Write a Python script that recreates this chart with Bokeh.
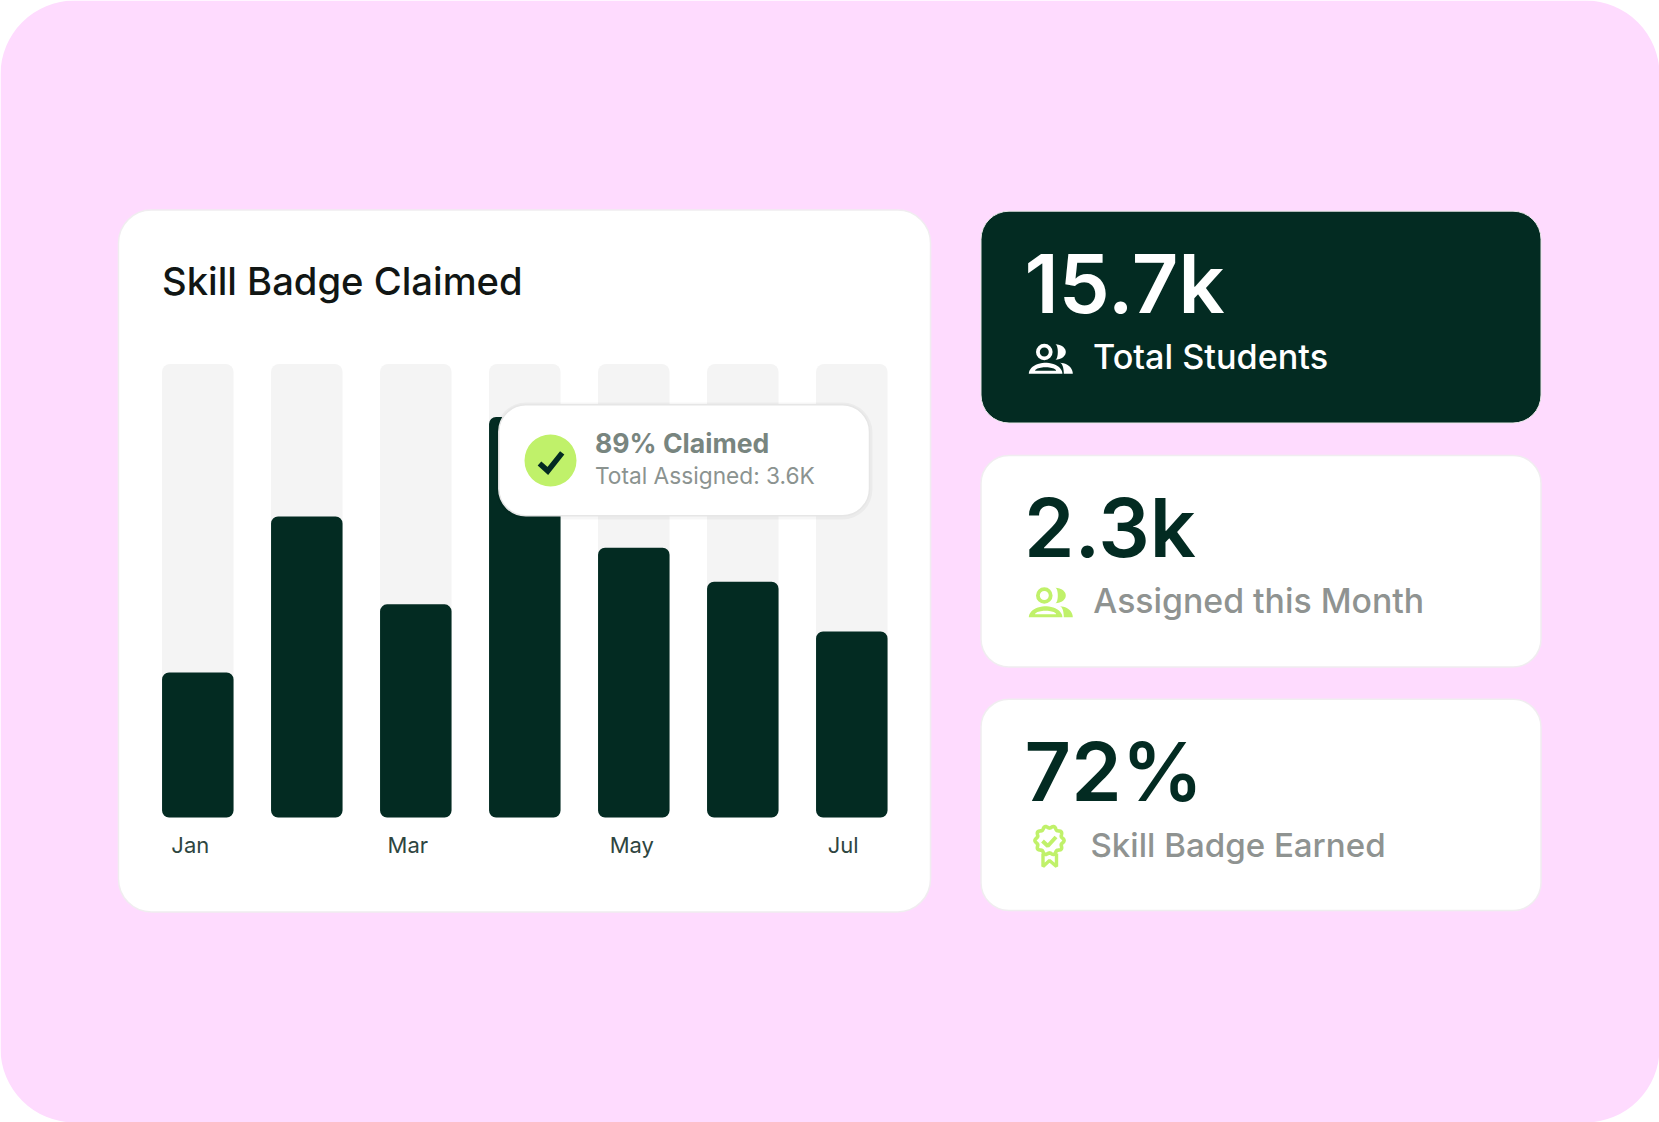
import numpy as np
from bokeh.core.properties import value
from bokeh.embed import file_html
from bokeh.models import ColumnDataSource, Range1d
from bokeh.plotting import figure
from bokeh.resources import INLINE

# ---- data ----
months = ["Jan", "Feb", "Mar", "Apr", "May", "Jun", "Jul"]
claimed_pct = [32, 66.4, 47, 88.3, 59.5, 52, 41]
track_pct = [100, 100, 100, 100, 100, 100, 100]
shown_months = ["Jan", "Mar", "May", "Jul"]
chart_title = "Skill Badge Claimed"
tip_title = "89% Claimed"
tip_sub = "Total Assigned: 3.6K"
kpi_values = ["15.7k", "2.3k", "72%"]
kpi_labels = ["Total Students", "Assigned this Month", "Skill Badge Earned"]

DARK = "#032B22"
LIME = "#C0F16A"
PINK = "#FEDBFE"
TRACK = "#F4F4F4"
GREY = "#8F9391"
HEAD = "Inter Medium"
BIG = "Inter SemiBold"
BODY = "Inter"
BASE = 0.37  # the text glyph sits this share of its size below the given y

W, H = 1659, 1122
p = figure(width=W, height=H, x_range=Range1d(0, W), y_range=Range1d(H, 0),
           toolbar_location=None, output_backend="svg", min_border=0,
           outline_line_color=None, border_fill_color="white", background_fill_color="white",
           styles={"position": "absolute", "left": "0", "top": "0"})
p.axis.visible = False
p.grid.visible = False

# scales for the bars: month index and percent mapped on to the canvas
x0, step = 197.3, 109.0
y0, pct_px = 817.0, 4.535
p.extra_x_ranges["mon"] = Range1d((0 - x0) / step, (W - x0) / step)
p.extra_y_ranges["pct"] = Range1d((y0 - H) / pct_px, y0 / pct_px)


def card(l, r, t, b, fill, radius, line=None, lw=1.5, alpha=1.0):
    p.quad(left=[l], right=[r], top=[t], bottom=[b], fill_color=fill, fill_alpha=alpha,
           line_color=line, line_width=lw, border_radius=radius)


def label(x, y, txt, size, color, font=HEAD, style="normal"):
    p.text(x=[x], y=[y - BASE * size], text=[txt], text_font=value(font), text_font_size=f"{size}px",
           text_color=color, text_font_style=style, text_align="left", text_baseline="alphabetic")


# background and cards
card(0, W, 0, H, PINK, 74)
card(118, 930, 209.5, 911.5, "white", 33, line="#F0EDF0")
card(980.5, 1540.5, 210.7, 422.5, DARK, 28, line="#E8E8E8", lw=1)
card(980.5, 1540.5, 455, 666.5, "white", 28, line="#F0EDF0")
card(980.5, 1540.5, 698.7, 910, "white", 28, line="#F0EDF0")

label(161.5, 295, chart_title, 38.2, "#111614")

# bars
idx = list(range(len(months)))
src = ColumnDataSource(dict(x=idx, track=track_pct, claimed=claimed_pct, month=months))
p.vbar(x="x", top="track", bottom=0, width=71.5 / step, source=src, x_range_name="mon",
       y_range_name="pct", fill_color=TRACK, line_color=None, border_radius=8)
p.vbar(x="x", top="claimed", bottom=0, width=71.5 / step, source=src, x_range_name="mon",
       y_range_name="pct", fill_color=DARK, line_color=None, border_radius=7)

# month labels
p.text(x=[months.index(m) for m in shown_months], y=[0] * len(shown_months), text=shown_months,
       x_range_name="mon", y_range_name="pct", x_offset=[-7.5, -8, -2, -8.7], y_offset=35.5 - BASE * 22,
       text_font=value(BODY), text_font_size="22px", text_color="#2E4540",
       text_align="center", text_baseline="alphabetic")

# tooltip
card(495.5, 872, 402, 519, "#000000", 30, alpha=0.035)
card(498.3, 869, 404.3, 515.3, "white", 27, line="#E6E6E6")
p.circle(x=[550], y=[460], radius=26, fill_color=LIME, line_color=None)
p.line(x=[539, 547.3, 561.7], y=[463, 470.4, 452.4], line_color=DARK, line_width=5.5,
       line_join="miter")
label(594.5, 452, tip_title, 26.6, "#78857F", font=BODY, style="bold")
label(594.5, 483.5, tip_sub, 22.7, "#8B9390", font=BODY)

# KPI texts
label(1024, 313.3, kpi_values[0], 81, "white", font=BIG)
label(1023.5, 557.3, kpi_values[1], 81, DARK, font=BIG)
label(1024, 801.7, kpi_values[2], 81, DARK, font=BIG)
label(1092.5, 368.4, kpi_labels[0], 34.2, "white")
label(1092.8, 612.4, kpi_labels[1], 33.8, GREY)
label(1090, 856.4, kpi_labels[2], 33.1, GREY)


def people(ox, oy, color):
    """ox, oy = left and bottom of the 44px wide icon"""
    # head ring
    p.circle(x=[ox + 15.5], y=[oy - 21.8], radius=6.4, fill_color=None, line_color=color, line_width=3.8)
    # second head crescent
    a = np.linspace(-np.pi / 2, np.pi / 2, 16)
    hx = list(ox + 26.5 + 10.5 * np.cos(a)) + list(ox + 26.5 + 2.5 * np.cos(a[::-1]))
    hy = list(oy - 21.8 + 7.7 * np.sin(a)) + list(oy - 21.8 + 7.7 * np.sin(a[::-1]))
    p.patch(x=hx, y=hy, fill_color=color, line_color=None)
    # body: an arch with a flat base and a lens-shaped hollow
    t = np.linspace(np.pi, 0, 24)
    bx = list(ox + 16.8 + 16.8 * np.cos(t))
    by = list(oy - 11 * np.sin(t))
    lx = list(ox + 16.8 + 10.5 * np.cos(t))
    ly = list(oy - 3 - 3.5 * np.sin(t))
    p.multi_polygons(xs=[[[bx, lx]]], ys=[[[by, ly]]], fill_color=color, line_color=None)
    # second body
    b = np.linspace(np.pi / 2, 0, 12)
    ox2, wide = ox + 31, 13
    sx = list(ox2 + wide * np.cos(b)) + list(ox2 + 4 * np.cos(b[::-1]))
    sy = list(oy - 11 * np.sin(b)) + list(oy - 11 * np.sin(b[::-1]))
    p.patch(x=sx, y=sy, fill_color=color, line_color=None)


people(1028.3, 373.3, "white")
people(1028.3, 616.8, LIME)

# badge
cx, cy = 1049, 840
a = np.linspace(0, 2 * np.pi, 160)
r = 13.5 + 1.1 * np.cos(10 * a)
p.patch(x=list(cx + r * np.cos(a)), y=list(cy + r * np.sin(a)), fill_color=None, line_color=LIME, line_width=3.6)
p.line(x=[1042, 1047.3, 1055.5], y=[840.5, 845.5, 836.5], line_color=LIME, line_width=4)
p.line(x=[1042.5, 1042.5, 1049, 1056, 1056], y=[853, 866, 860, 866, 853], line_color=LIME, line_width=3.4)

open("out.html", "w").write(file_html(p, INLINE))
